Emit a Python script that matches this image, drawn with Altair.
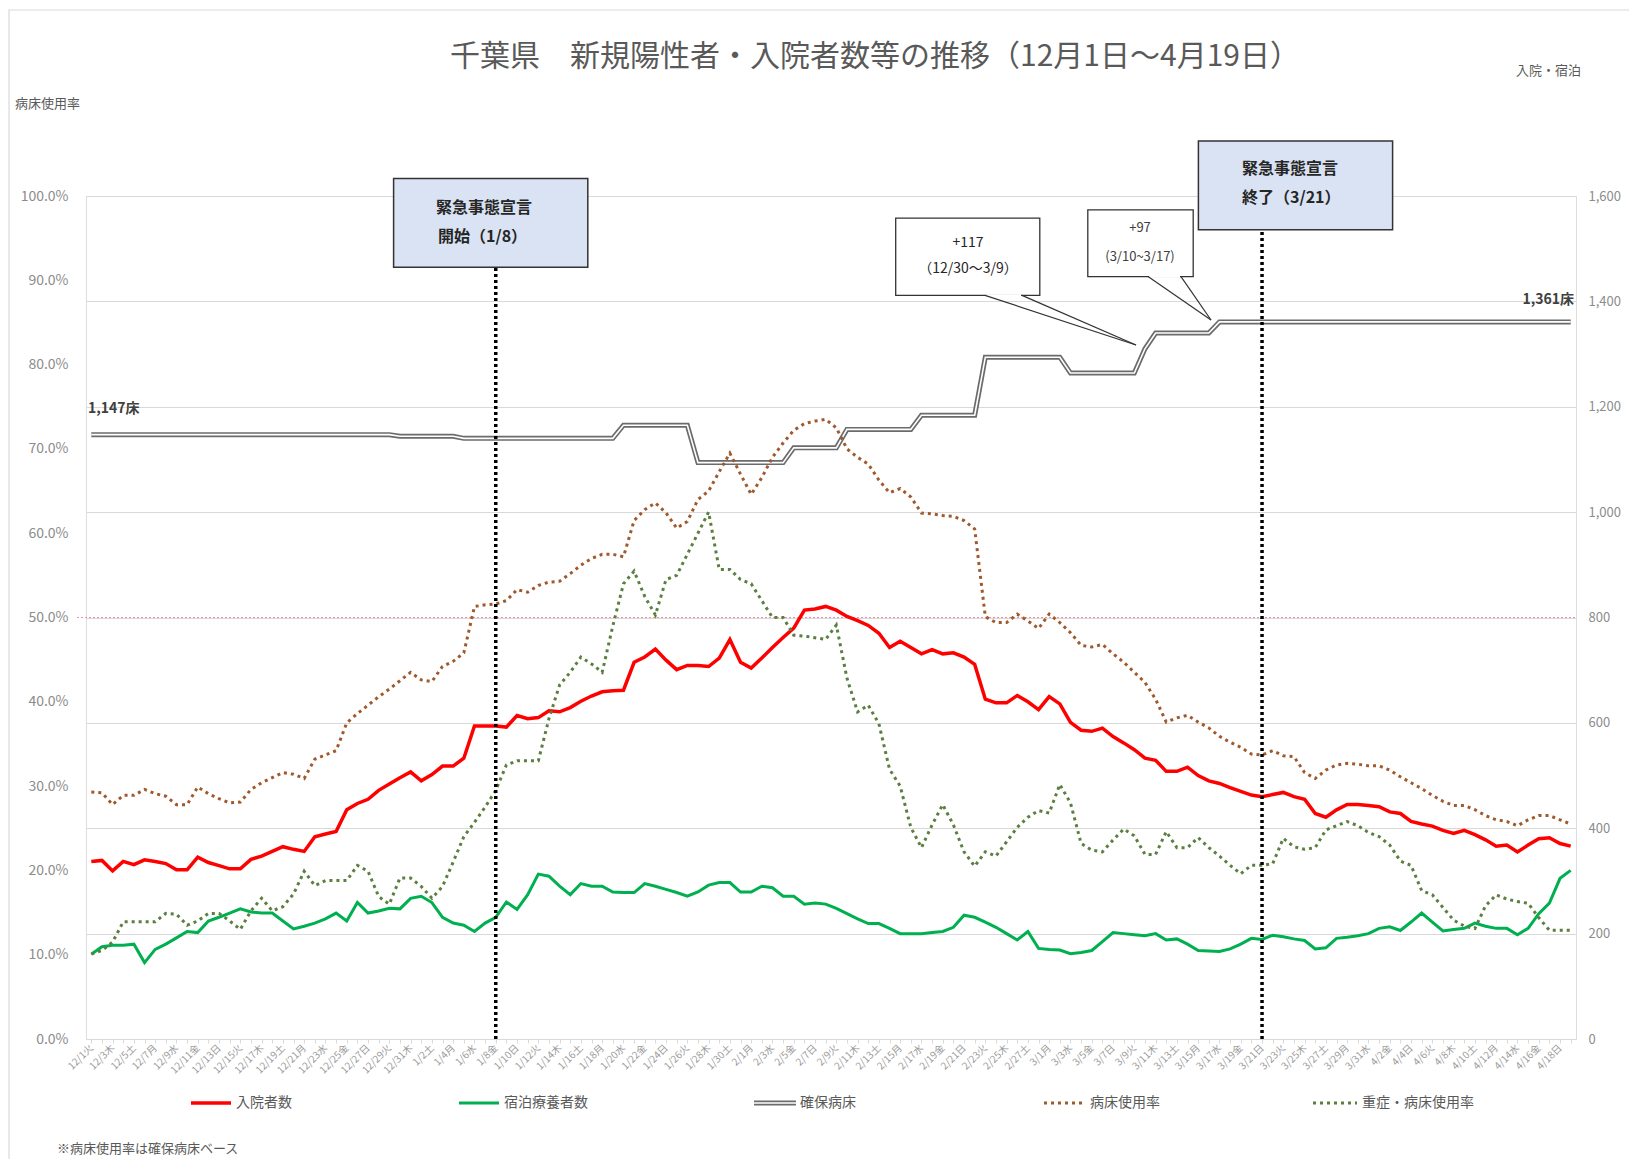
import datetime
import altair as alt
import pandas as pd

FONT = "Noto Sans CJK JP"

# ---------------- data ----------------
start = datetime.date(2020, 12, 1)
WEEKDAYS = "月火水木金土日"
dates = [start + datetime.timedelta(days=k) for k in range(140)]
date_labels = [f"{d.month}/{d.day}{WEEKDAYS[d.weekday()]}" for d in dates]

# 入院者数 (right axis)
hosp = [337, 339, 319, 337, 331, 340, 337, 333, 321, 321,
        345, 335, 329, 323, 323, 341, 347, 356, 365, 360,
        356, 384, 389, 394, 435, 447, 455, 472, 484, 496,
        507, 490, 502, 518, 518, 533, 594, 594, 594, 592,
        614, 608, 610, 623, 621, 629, 641, 651, 659, 661,
        662, 715, 725, 740, 719, 701, 709, 709, 707, 723,
        758, 715, 704, 723, 743, 762, 780, 814, 816, 821,
        814, 802, 794, 785, 770, 743, 755, 743, 731, 739,
        731, 733, 725, 711, 645, 638, 638, 652, 640, 625,
        650, 636, 601, 586, 584, 590, 574, 562, 549, 533,
        529, 508, 508, 516, 500, 490, 485, 477, 470, 463,
        460, 464, 468, 460, 455, 428, 421, 435, 445, 445,
        443, 441, 431, 428, 413, 408, 404, 396, 390, 396,
        388, 378, 366, 368, 355, 368, 380, 382, 371, 366]

# 宿泊療養者数 (right axis)
lodge = [161, 175, 178, 178, 180, 145, 170, 180, 192, 204,
         202, 224, 231, 239, 247, 241, 239, 239, 224, 209,
         214, 220, 228, 239, 224, 259, 239, 243, 248, 247,
         267, 271, 259, 231, 220, 216, 204, 220, 231, 260,
         246, 274, 313, 309, 290, 274, 295, 290, 290, 279,
         278, 278, 295, 290, 284, 278, 271, 279, 292, 297,
         297, 279, 279, 290, 287, 271, 271, 256, 258, 256,
         248, 238, 228, 219, 219, 210, 200, 200, 200, 202,
         204, 212, 235, 231, 222, 212, 200, 188, 204, 172,
         170, 169, 162, 164, 168, 185, 202, 200, 198, 196,
         200, 188, 190, 180, 168, 167, 166, 171, 180, 191,
         189, 197, 194, 190, 187, 171, 173, 191, 193, 196,
         200, 210, 213, 206, 222, 239, 222, 205, 208, 210,
         220, 214, 210, 210, 198, 210, 238, 258, 305, 320]

# 確保病床 (right axis)
beds = [1147, 1147, 1147, 1147, 1147, 1147, 1147, 1147, 1147, 1147,
        1147, 1147, 1147, 1147, 1147, 1147, 1147, 1147, 1147, 1147,
        1147, 1147, 1147, 1147, 1147, 1147, 1147, 1147, 1147, 1144,
        1144, 1144, 1144, 1144, 1144, 1140, 1140, 1140, 1140, 1140,
        1140, 1140, 1140, 1140, 1140, 1140, 1140, 1140, 1140, 1140,
        1165, 1165, 1165, 1165, 1165, 1165, 1165, 1094, 1094, 1094,
        1094, 1094, 1094, 1094, 1094, 1094, 1122, 1122, 1122, 1122,
        1122, 1157, 1157, 1157, 1157, 1157, 1157, 1157, 1184, 1184,
        1184, 1184, 1184, 1184, 1294, 1294, 1294, 1294, 1294, 1294,
        1294, 1294, 1264, 1264, 1264, 1264, 1264, 1264, 1264, 1310,
        1340, 1340, 1340, 1340, 1340, 1340, 1361, 1361, 1361, 1361,
        1361, 1361, 1361, 1361, 1361, 1361, 1361, 1361, 1361, 1361,
        1361, 1361, 1361, 1361, 1361, 1361, 1361, 1361, 1361, 1361,
        1361, 1361, 1361, 1361, 1361, 1361, 1361, 1361, 1361, 1361]

# 病床使用率 % (left axis)
rate = [29.3, 29.2, 27.8, 28.9, 28.9, 29.6, 29.1, 28.8, 27.8, 27.8,
        29.9, 29.1, 28.5, 28.0, 28.1, 29.6, 30.4, 31.0, 31.6, 31.4,
        30.9, 33.2, 33.7, 34.2, 37.5, 38.6, 39.6, 40.6, 41.5, 42.5,
        43.5, 42.6, 42.4, 44.2, 44.8, 45.8, 51.3, 51.5, 51.6, 52.0,
        53.3, 53.0, 53.8, 54.2, 54.3, 55.2, 56.2, 57.0, 57.5, 57.5,
        57.2, 61.5, 62.8, 63.6, 62.4, 60.6, 61.4, 64.0, 65.0, 67.3,
        69.5, 67.0, 64.6, 66.6, 69.0, 70.7, 72.2, 73.0, 73.3, 73.5,
        72.5, 70.0, 69.0, 68.2, 66.3, 64.8, 65.3, 64.3, 62.4, 62.3,
        62.1, 62.0, 61.5, 60.5, 50.1, 49.4, 49.4, 50.4, 49.6, 48.7,
        50.4, 49.4, 48.2, 46.7, 46.5, 46.8, 45.7, 44.7, 43.5, 42.3,
        40.3, 37.6, 38.1, 38.4, 37.6, 36.9, 35.9, 35.2, 34.6, 33.8,
        33.7, 34.2, 33.6, 33.5, 31.6, 30.9, 31.9, 32.5, 32.7, 32.6,
        32.4, 32.4, 31.9, 31.1, 30.4, 29.7, 28.9, 28.2, 27.7, 27.7,
        27.2, 26.5, 26.0, 25.8, 25.3, 26.0, 26.5, 26.5, 26.0, 25.5]

# 重症・病床使用率 % (left axis)
severe = [10.1, 10.5, 11.5, 13.9, 13.9, 13.9, 13.9, 14.9, 14.8, 13.5,
          14.0, 14.9, 14.9, 14.0, 13.0, 15.2, 16.7, 15.2, 15.7, 17.2,
          19.9, 18.2, 18.8, 18.8, 18.8, 20.6, 19.9, 16.9, 16.0, 19.1,
          19.1, 18.1, 16.7, 18.1, 21.0, 24.0, 25.7, 27.5, 29.5, 32.5,
          33.0, 33.0, 33.0, 38.0, 42.0, 43.5, 45.3, 44.5, 43.5, 49.0,
          54.0, 55.5, 52.5, 50.3, 54.5, 55.0, 57.5, 60.0, 62.5, 55.7,
          55.7, 54.5, 54.0, 52.0, 50.0, 50.0, 47.9, 47.8, 47.6, 47.4,
          49.1, 42.8, 38.8, 39.6, 37.4, 32.0, 30.0, 25.1, 22.7, 25.4,
          27.8, 25.4, 22.2, 20.5, 22.2, 21.7, 23.4, 25.1, 26.3, 27.1,
          26.8, 30.2, 28.0, 23.2, 22.4, 22.2, 23.6, 24.9, 24.1, 21.9,
          21.9, 24.6, 22.7, 22.7, 23.9, 22.7, 21.7, 20.6, 19.6, 20.6,
          20.6, 20.8, 23.8, 22.8, 22.5, 22.7, 24.8, 25.3, 25.8, 25.3,
          24.5, 24.0, 23.0, 21.1, 20.6, 17.6, 17.1, 15.6, 14.1, 13.4,
          13.1, 15.8, 17.1, 16.6, 16.3, 16.1, 14.4, 12.9, 12.9, 12.9]

event_days = [38, 110]          # 1/8 開始, 3/21 終了
right_ticks = [0, 200, 400, 600, 800, 1000, 1200, 1400, 1600]
left_ticks = [0, 10, 20, 30, 40, 50, 60, 70, 80, 90, 100]
threshold = [800]               # 50% line on the right scale

df = pd.DataFrame({"idx": list(range(140)), "hosp": hosp, "lodge": lodge,
                   "beds": beds, "rate": rate, "severe": severe})
ev = pd.DataFrame({"idx": event_days})
thr = pd.DataFrame({"v": threshold})

# ---------------- layout ----------------
W, H = 1490, 843
GRAY = "#8c8c8c"
TXT = "#595959"

tick_text = [lab if k % 2 == 0 else "" for k, lab in enumerate(date_labels)]
label_expr = "[" + ",".join("'" + t + "'" for t in tick_text) + "][datum.value]"

X = alt.X("idx:Q",
          scale=alt.Scale(domain=[-0.5, 139.5], nice=False, zero=False),
          axis=alt.Axis(values=list(range(140)), labelExpr=label_expr, labelAngle=315,
                        labelAlign="right", labelBaseline="middle", labelFontSize=10,
                        labelColor="#9a9a9a", labelPadding=3, tickSize=4, tickColor="#d9d9d9",
                        domainColor="#d9d9d9", labelOverlap=False, labelBound=False,
                        grid=False, title=None, labelFont=FONT))

YR_scale = alt.Scale(domain=[0, 1600], nice=False, zero=True)
YR_axis = alt.Axis(orient="right", values=right_ticks, format=",d", grid=True,
                   gridColor="#d9d9d9", domain=False, ticks=False, labelPadding=12,
                   labelFontSize=13, labelColor=GRAY, title=None, labelFont=FONT)
YL_scale = alt.Scale(domain=[0, 100], nice=False, zero=True)
YL_axis = alt.Axis(orient="left", values=left_ticks,
                   labelExpr="format(datum.value, '.1f') + '%'", grid=False,
                   domain=False, ticks=False, labelPadding=18, labelFontSize=14,
                   labelColor=GRAY, title=None, labelFont=FONT)


def yr(field):
    return alt.Y(field, type="quantitative", scale=YR_scale, axis=YR_axis)


def yl(field):
    return alt.Y(field, type="quantitative", scale=YL_scale, axis=YL_axis)


base = alt.Chart(df)

pink = alt.Chart(thr).mark_rule(color="#f08fa4", strokeWidth=1.2, strokeDash=[2, 2]).encode(
    y=yr("v"), x=alt.value(-9), x2=alt.value(W))
beds_outer = base.mark_line(color="#6b6b6b", strokeWidth=5).encode(x=X, y=yr("beds"))
beds_inner = base.mark_line(color="white", strokeWidth=1.6).encode(x=X, y=yr("beds"))
hosp_line = base.mark_line(color="#ff0000", strokeWidth=3.5).encode(x=X, y=yr("hosp"))
lodge_line = base.mark_line(color="#00b050", strokeWidth=3).encode(x=X, y=yr("lodge"))
right_group = alt.layer(pink, beds_outer, beds_inner, hosp_line, lodge_line)

rate_line = base.mark_line(color="#a0592c", strokeWidth=3, strokeDash=[3, 4]).encode(
    x=X, y=yl("rate"))
sev_line = base.mark_line(color="#5b7f3f", strokeWidth=3, strokeDash=[3, 4]).encode(
    x=X, y=yl("severe"))
left_group = alt.layer(rate_line, sev_line)

events = alt.Chart(ev).mark_rule(color="black", strokeWidth=3.5, strokeDash=[3, 3]).encode(
    x=X, y=alt.value(0), y2=alt.value(H))

ONE = alt.Data(values=[{"k": 0}])


def txt(s, x, y, size=14, color=TXT, weight="normal", align="left"):
    return alt.Chart(ONE).mark_text(text=s, fontSize=size, color=color, fontWeight=weight,
                                    align=align, baseline="middle", font=FONT).encode(
        x=alt.value(x), y=alt.value(y))


def box(x1, x2, y1, y2, fill, stroke="#333333", sw=1.5):
    return alt.Chart(ONE).mark_rect(fill=fill, stroke=stroke, strokeWidth=sw).encode(
        x=alt.value(x1), x2=alt.value(x2), y=alt.value(y1), y2=alt.value(y2))


def seg(x1, y1, x2, y2, color="#333333", sw=1.2, dash=None):
    kw = dict(color=color, strokeWidth=sw)
    if dash:
        kw["strokeDash"] = dash
    return alt.Chart(ONE).mark_rule(**kw).encode(
        x=alt.value(x1), y=alt.value(y1), x2=alt.value(x2), y2=alt.value(y2))


ann = [
    # outer frame
    alt.Chart(ONE).mark_rect(fill="transparent", stroke="#d9d9d9", strokeWidth=1.2).encode(
        x=alt.value(-77), x2=alt.value(W + 70), y=alt.value(-186), y2=alt.value(H + 140)),
    # title & side labels
    txt("千葉県　新規陽性者・入院者数等の推移（12月1日～4月19日）", 789, -139, size=30,
        align="center"),
    txt("病床使用率", -71, -92, size=13, color=TXT),
    txt("入院・宿泊", 1430, -125, size=13, color=TXT),
    txt("1,147床", 2, 213, size=14, color="#404040", weight="bold"),
    txt("1,361床", 1488, 104, size=14, color="#404040", weight="bold", align="right"),
    # emergency boxes
    box(307.6, 501.8, -17.5, 71.3, "#dae3f3"),
    txt("緊急事態宣言", 350, 12, size=16, color="#262626", weight="bold"),
    txt("開始（1/8）", 352, 41, size=16, color="#262626", weight="bold"),
    box(1112.4, 1306.6, -55.1, 33.7, "#dae3f3"),
    txt("緊急事態宣言", 1156, -27, size=16, color="#262626", weight="bold"),
    txt("終了（3/21）", 1156, 2, size=16, color="#262626", weight="bold"),
    # callouts
    box(809.7, 953.8, 22.2, 99.4, "white", sw=1.3),
    seg(900, 99.4, 935, 99.4, color="white", sw=2.5),
    seg(899, 99.4, 1050, 149),
    seg(936, 99.4, 1050, 149),
    txt("+117", 882, 47, size=14, color="#262626", align="center"),
    txt("（12/30～3/9）", 882, 73, size=14, color="#262626", align="center"),
    box(1001.8, 1107.2, 13.8, 80.6, "white", sw=1.3),
    seg(1063, 80.6, 1094, 80.6, color="white", sw=2.5),
    seg(1062, 80.6, 1125, 124),
    seg(1095, 80.6, 1125, 124),
    txt("+97", 1054, 32, size=13, color="#404040", align="center"),
    txt("(3/10~3/17)", 1054, 61, size=13, color="#404040", align="center"),
    # legend
    seg(105, 907, 145, 907, color="#ff0000", sw=3.5),
    txt("入院者数", 150, 907),
    seg(373, 907, 413, 907, color="#00b050", sw=3),
    txt("宿泊療養者数", 418, 907),
    seg(668, 907, 710, 907, color="#6b6b6b", sw=5),
    seg(668, 907, 710, 907, color="white", sw=1.6),
    txt("確保病床", 714, 907),
    seg(958, 907, 1000, 907, color="#a0592c", sw=3, dash=[3, 4]),
    txt("病床使用率", 1004, 907),
    seg(1227, 907, 1271, 907, color="#5b7f3f", sw=3, dash=[3, 4]),
    txt("重症・病床使用率", 1276, 907),
    # footnote
    txt("※病床使用率は確保病床ベース", -29, 953, size=13),
]

chart = alt.layer(right_group, left_group, events, *ann).resolve_scale(
    y="independent"
).properties(
    width=W, height=H,
    padding={"left": 78, "top": 188, "right": 53, "bottom": 120},
    autosize=alt.AutoSizeParams(type="none"),
    background="white",
).configure_view(stroke=None).configure(font=FONT)

chart.save("out.html", embed_options={"renderer": "svg", "actions": False})
